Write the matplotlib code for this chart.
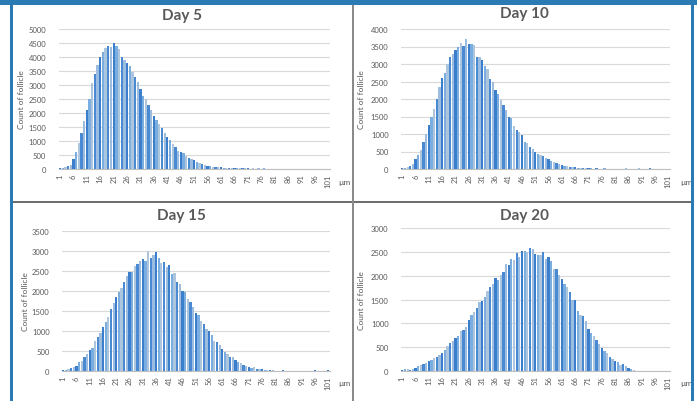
import matplotlib
matplotlib.use("Agg")
import matplotlib.pyplot as plt
from matplotlib.patches import Rectangle
import numpy as np

plt.rcParams['font.family'] = ['Lato', 'DejaVu Sans']

sizes = list(range(1, 102))
tick_labels = [str(v) for v in range(1, 102, 5)]

day5 = [20, 30, 60, 100, 160, 350, 620, 920, 1300, 1700,
        2120, 2500, 3080, 3400, 3720, 4000, 4170, 4330, 4380, 4360,
        4500, 4400, 4300, 4000, 3900, 3780, 3680, 3480, 3300, 3100,
        2850, 2600, 2500, 2300, 2100, 1900, 1750, 1620, 1450, 1300,
        1160, 1020, 900, 800, 650, 610, 560, 450, 380, 350,
        320, 260, 200, 170, 140, 110, 90, 85, 70, 60,
        55, 45, 40, 35, 30, 30, 25, 20, 25, 20,
        20, 15, 20, 15, 20, 15, 20, 10, 15, 10,
        10, 5, 10, 0, 5, 0, 5, 0, 15, 5,
        10, 0, 5, 0, 0, 0, 0, 0, 0, 0, 0]

day10 = [30, 40, 60, 100, 150, 280, 400, 550, 780, 1000,
         1270, 1500, 1720, 2000, 2350, 2600, 2750, 3000, 3200, 3300,
         3400, 3500, 3600, 3520, 3720, 3560, 3570, 3530, 3200, 3200,
         3120, 2950, 2850, 2560, 2480, 2270, 2150, 1980, 1830, 1680,
         1480, 1470, 1240, 1120, 1060, 960, 780, 740, 620, 560,
         500, 440, 400, 360, 320, 290, 220, 190, 160, 140,
         120, 100, 80, 70, 60, 70, 40, 30, 25, 20,
         15, 15, 10, 15, 10, 10, 15, 10, 10, 10,
         10, 5, 0, 5, 20, 10, 0, 5, 0, 15,
         0, 5, 0, 20, 0, 0, 0, 0, 0, 0, 0]

day15 = [20, 30, 60, 80, 100, 120, 220, 240, 350, 420,
         520, 580, 740, 850, 950, 1100, 1230, 1350, 1550, 1700,
         1850, 1980, 2080, 2230, 2370, 2470, 2480, 2620, 2680, 2740,
         2800, 2760, 3000, 2830, 2900, 2970, 2820, 2700, 2720, 2600,
         2660, 2430, 2440, 2230, 2180, 2000, 1970, 1800, 1720, 1600,
         1460, 1400, 1250, 1180, 1060, 1000, 900, 760, 720, 640,
         560, 480, 430, 360, 340, 270, 220, 200, 150, 120,
         100, 80, 90, 60, 50, 40, 30, 25, 20, 15,
         10, 10, 10, 15, 10, 5, 10, 5, 10, 5,
         5, 10, 5, 0, 5, 20, 0, 0, 0, 0, 20]

day20 = [20, 40, 40, 30, 50, 70, 110, 130, 150, 170,
         200, 240, 270, 300, 340, 370, 450, 520, 580, 620,
         700, 740, 830, 870, 930, 1060, 1180, 1240, 1320, 1440,
         1460, 1560, 1680, 1760, 1820, 1950, 1910, 2020, 2080, 2250,
         2230, 2350, 2330, 2480, 2400, 2510, 2510, 2490, 2570, 2550,
         2450, 2430, 2430, 2500, 2350, 2390, 2300, 2130, 2130, 2020,
         1930, 1820, 1770, 1660, 1480, 1500, 1260, 1180, 1160, 1040,
         880, 800, 730, 640, 560, 480, 430, 370, 300, 250,
         220, 180, 120, 140, 100, 70, 50, 30, 10, 5,
         0, 0, 0, 0, 0, 0, 0, 0, 0, 0, 0]

W, H = 697, 402
fig = plt.figure(figsize=(W / 100, H / 100), dpi=100)
fig.patch.set_facecolor('white')

def ax_at(l, t, r, b):
    return fig.add_axes([l / W, 1 - b / H, (r - l) / W, (b - t) / H])

text_col = '#595959'
bar_cols = ['#3b7fcc', '#7aaee0', '#aec6dd', '#4a8ad2', '#9cbde0']

panels = [
    ("Day 5", day5, 5000, (58.7, 30, 329.6, 170), (182, 16), 21, (344, 183)),
    ("Day 10", day10, 4000, (401, 30, 669.6, 170), (524, 14), 362, (686, 183)),
    ("Day 15", day15, 3500, (62, 232, 329.6, 372), (181, 216), 25, (344, 384)),
    ("Day 20", day20, 3000, (401, 229, 669.6, 372), (524, 216), 362, (686, 384)),
]

for title, vals, ymax, box, tpos, ylx, upos in panels:
    ax = ax_at(*box)
    cols = [bar_cols[i % len(bar_cols)] for i in range(len(sizes))]
    ax.bar(sizes, vals, width=0.85, color=cols, linewidth=0, zorder=3)
    ax.set_xlim(0.5, len(sizes) + 0.5)
    ax.set_ylim(0, ymax)
    yt = np.arange(0, ymax + 1, 500)
    ax.set_yticks(yt)
    ax.set_yticklabels([str(int(v)) for v in yt], fontsize=5.5, color=text_col)
    ax.set_xticks(list(range(1, 102, 5)))
    ax.set_xticklabels(tick_labels, rotation=90, fontsize=5.5, color=text_col)
    ax.tick_params(axis='both', length=0, pad=3)
    ax.tick_params(axis='y', pad=9)
    ax.grid(axis='y', color='#d9d9d9', linewidth=0.8, zorder=0)
    for s in ['top', 'right', 'left']:
        ax.spines[s].set_visible(False)
    ax.spines['bottom'].set_color('#bfbfbf')
    ax.spines['bottom'].set_linewidth(0.8)
    ax.set_facecolor('none')
    fig.text(tpos[0] / W, 1 - tpos[1] / H, title, ha='center', va='center',
             fontsize=11, fontweight='bold', color=text_col)
    yc = (box[1] + box[3]) / 2
    fig.text(ylx / W, 1 - yc / H, "Count of follicle", rotation=90,
             ha='center', va='center', fontsize=6, color=text_col)
    fig.text(upos[0] / W, 1 - upos[1] / H, "µm", ha='center', va='center',
             fontsize=6, color=text_col)

def rect_px(x0, y0, x1, y1, color):
    fig.patches.append(Rectangle((x0 / W, 1 - y1 / H), (x1 - x0) / W, (y1 - y0) / H,
                                 transform=fig.transFigure, color=color, zorder=10, linewidth=0))

blue = '#2a7bb3'
rect_px(0, 0, W, 6, blue)
rect_px(10, 0, 13, H, blue)
rect_px(690.5, 0, 693.5, H, blue)
rect_px(13, 201.5, 690.5, 203.5, '#6e6e6e')
rect_px(352, 6, 353.5, H, '#8a8a8a')

fig.savefig('out.png', dpi=100)
